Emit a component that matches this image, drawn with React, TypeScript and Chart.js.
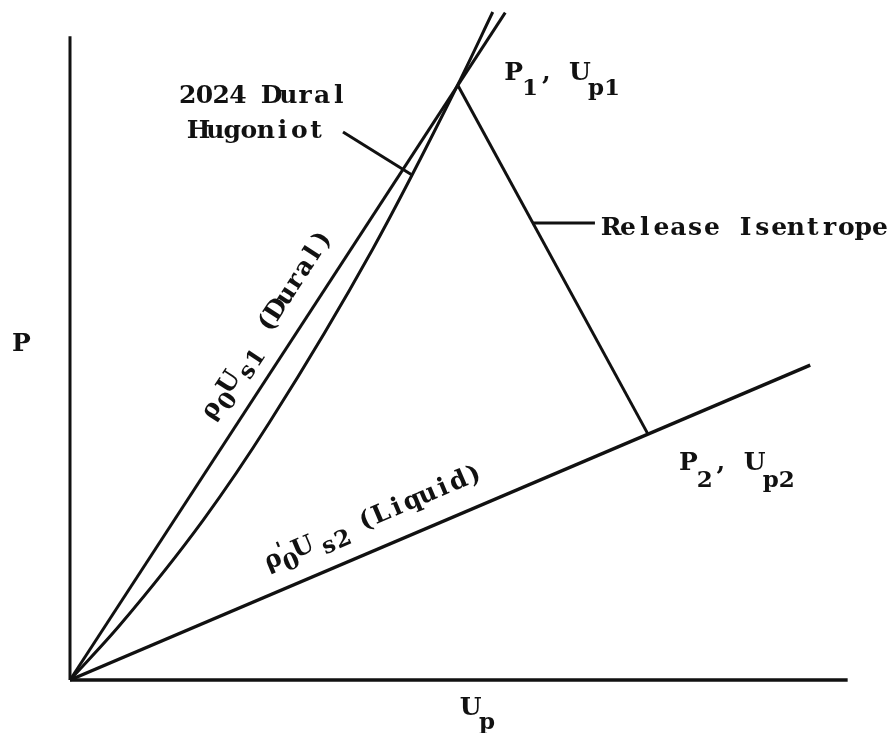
import React, { useEffect, useRef } from "react";
import { Chart, registerables } from "chart.js";

Chart.register(...registerables);

// Pressure (P) against particle velocity (Up), arbitrary units.
const axisUpMax = 9.97;
const axisPMax = 9.61;

// Rayleigh line of 2024 Dural: rho0 * Us1
const duralLineUp = [0, 5.58];
const duralLineP = [0, 9.96];

// 2024 Dural Hugoniot
const hugoniotUp = [0, 0.64, 1.71, 2.56, 3.88, 4.97, 5.42];
const hugoniotP = [0, 0.82, 2.39, 3.85, 6.43, 8.88, 9.97];

// Release isentrope from state 1 (P1, Up1) down to state 2 (P2, Up2)
const isentropeUp = [4.97, 7.41];
const isentropeP = [8.88, 3.67];

// Rayleigh line of the liquid: rho0' * Us2
const liquidLineUp = [0, 9.49];
const liquidLineP = [0, 4.7];

// Leader lines for the callouts
const hugoniotLeaderUp = [3.5, 4.38];
const hugoniotLeaderP = [8.18, 7.54];
const isentropeLeaderUp = [5.94, 6.73];
const isentropeLeaderP = [6.82, 6.82];

const INK = "#111";
const FONT = '"DejaVu Serif", serif';
const MAIN_SIZE = 25;
const MAIN_CELL = 16.8;
const SUB_SIZE = 23;
const SUB_CELL = 15.8;

const pts = (xs: number[], ys: number[]) => xs.map((x, i) => ({ x, y: ys[i] }));

type Piece = { t: string; dy?: number; dx?: number; sub?: boolean; size?: number; adv?: number };
type Label = { at: [number, number]; pieces: Piece[]; along?: { xs: number[]; ys: number[] } };

const labels: Label[] = [
  { at: [1.4, 8.61], pieces: [{ t: "2024 Dural" }] },
  { at: [1.54, 8.09], pieces: [{ t: "Hugoniot" }] },
  {
    at: [5.58, 8.96],
    pieces: [{ t: "P" }, { t: "1", dy: 15, sub: true }, { t: ", " }, { t: "U" }, { t: "p1", dy: 15, sub: true }],
  },
  {
    at: [7.82, 3.13],
    pieces: [{ t: "P" }, { t: "2", dy: 17, sub: true }, { t: ", " }, { t: "U" }, { t: "p2", dy: 17, sub: true }],
  },
  { at: [6.83, 6.64], pieces: [{ t: "Release Isentrope" }] },
  { at: [-0.73, 4.91], pieces: [{ t: "P" }] },
  { at: [5.03, -0.52], pieces: [{ t: "U" }, { t: "p", dy: 14, sub: true }] },
  {
    at: [1.83, 3.87],
    along: { xs: duralLineUp, ys: duralLineP },
    pieces: [
      { t: "ρ" },
      { t: "0", dy: 9, sub: true },
      { t: "U" },
      { t: "s1", dy: 9, sub: true, dx: 3 },
      { t: " (Dural)", dx: 2 },
    ],
  },
  {
    at: [2.54, 1.64],
    along: { xs: liquidLineUp, ys: liquidLineP },
    pieces: [
      { t: "ρ" },
      { t: "'", dy: -8, size: 20, dx: -6, adv: 0 },
      { t: "0", dy: 9, sub: true },
      { t: "U" },
      { t: "s2", dy: 8, sub: true, dx: 8 },
      { t: " (Liquid)", dx: -5 },
    ],
  },
];

// Typewriter-style setting: every glyph is centred in a fixed-pitch cell.
const drawPieces = (ctx: CanvasRenderingContext2D, pieces: Piece[]) => {
  let cx = 0;
  for (const p of pieces) {
    const size = p.size ?? (p.sub ? SUB_SIZE : MAIN_SIZE);
    const cell = p.sub ? SUB_CELL : MAIN_CELL;
    ctx.font = `bold ${size}px ${FONT}`;
    let x = cx + (p.dx ?? 0);
    for (const ch of Array.from(p.t)) {
      const w = ctx.measureText(ch).width;
      ctx.fillText(ch, x + (cell - w) / 2, p.dy ?? 0);
      x += cell;
    }
    cx = p.adv !== undefined ? cx + p.adv : x;
  }
};

const labelPlugin = {
  id: "diagramLabels",
  afterDatasetsDraw(chart: any) {
    const { ctx, scales } = chart;
    const xs = scales.x;
    const ys = scales.y;
    ctx.save();
    ctx.fillStyle = INK;
    ctx.textBaseline = "alphabetic";
    ctx.textAlign = "left";
    for (const lab of labels) {
      const px = xs.getPixelForValue(lab.at[0]);
      const py = ys.getPixelForValue(lab.at[1]);
      ctx.save();
      ctx.translate(px, py);
      if (lab.along) {
        const x0 = xs.getPixelForValue(lab.along.xs[0]);
        const y0 = ys.getPixelForValue(lab.along.ys[0]);
        const x1 = xs.getPixelForValue(lab.along.xs[1]);
        const y1 = ys.getPixelForValue(lab.along.ys[1]);
        ctx.rotate(Math.atan2(y1 - y0, x1 - x0));
      }
      drawPieces(ctx, lab.pieces);
      ctx.restore();
    }
    ctx.restore();
  },
};

const lineSet = (data: { x: number; y: number }[], width = 3, extra: any = {}) => ({
  data,
  showLine: true,
  borderColor: INK,
  borderWidth: width,
  pointRadius: 0,
  pointHoverRadius: 0,
  fill: false,
  clip: false,
  ...extra,
});

export default function App() {
  const canvasRef = useRef<HTMLCanvasElement | null>(null);

  useEffect(() => {
    if (!canvasRef.current) return;
    const chart = new Chart(canvasRef.current, {
      type: "scatter",
      data: {
        datasets: [
          lineSet(pts([0, 0], [0, axisPMax]), 3),
          lineSet(pts([0, axisUpMax], [0, 0]), 3.5),
          lineSet(pts(duralLineUp, duralLineP), 3),
          lineSet(pts(hugoniotUp, hugoniotP), 3, { cubicInterpolationMode: "monotone" }),
          lineSet(pts(isentropeUp, isentropeP), 3),
          lineSet(pts(liquidLineUp, liquidLineP), 3.5),
          lineSet(pts(hugoniotLeaderUp, hugoniotLeaderP), 3),
          lineSet(pts(isentropeLeaderUp, isentropeLeaderP), 3),
        ],
      },
      options: {
        responsive: false,
        animation: false,
        devicePixelRatio: 1,
        layout: { padding: { left: 70, right: 46, top: 10, bottom: 53 } },
        plugins: { legend: { display: false }, tooltip: { enabled: false } },
        scales: {
          x: { type: "linear", min: 0, max: 10, display: false },
          y: { type: "linear", min: 0, max: 10, display: false },
        },
      },
      plugins: [labelPlugin],
    });
    return () => chart.destroy();
  }, []);

  return (
    <div style={{ position: "fixed", left: 0, top: 0, width: 896, height: 733, background: "#fff" }}>
      <canvas ref={canvasRef} width={896} height={733} />
    </div>
  );
}
